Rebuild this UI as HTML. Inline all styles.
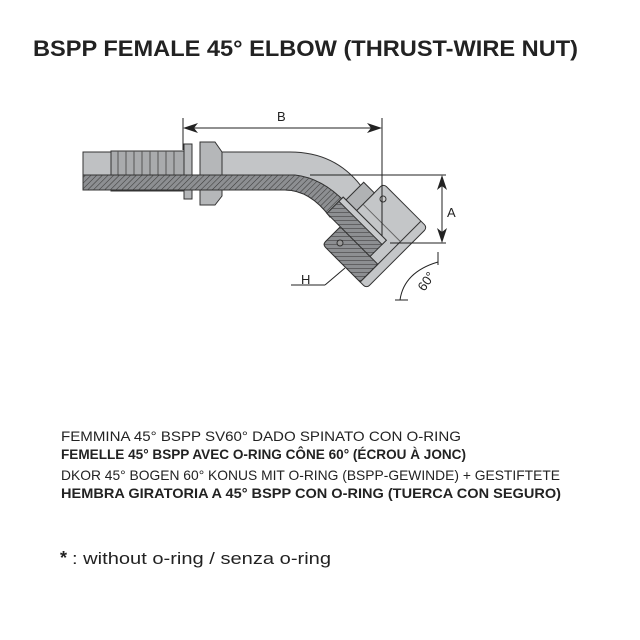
<!DOCTYPE html>
<html><head><meta charset="utf-8"><style>html,body{margin:0;padding:0;background:#fff}svg{display:block}</style></head><body>
<svg width="640" height="640" viewBox="0 0 640 640" xmlns="http://www.w3.org/2000/svg" font-family="Liberation Sans, sans-serif">
<defs>
<pattern id="h" width="4" height="4" patternUnits="userSpaceOnUse" patternTransform="rotate(45)">
<rect width="4" height="4" fill="#8d8f92"/><line x1="0" y1="0" x2="0" y2="4" stroke="#3a3a3a" stroke-width="1.1"/></pattern>
</defs>
<text x="33" y="56" font-size="22" font-weight="bold" fill="#222" textLength="545" lengthAdjust="spacingAndGlyphs">BSPP FEMALE 45° ELBOW  (THRUST-WIRE NUT)</text>

<g stroke="#333" stroke-width="1">
<rect x="83" y="152" width="30" height="38" fill="#bfc1c3"/>
<rect x="111" y="151" width="75" height="40" fill="#a9abad"/>
<g stroke="#555"><line x1="118" y1="151" x2="118" y2="175"/><line x1="126" y1="151" x2="126" y2="175"/><line x1="134" y1="151" x2="134" y2="175"/><line x1="142" y1="151" x2="142" y2="175"/><line x1="150" y1="151" x2="150" y2="175"/><line x1="158" y1="151" x2="158" y2="175"/><line x1="166" y1="151" x2="166" y2="175"/><line x1="174" y1="151" x2="174" y2="175"/></g>
<rect x="184" y="144" width="8" height="55" fill="#b5b7b9"/>
<path d="M200 142 L215 142 L222 152 L222 196 L215 205 L200 205 Z" fill="#b5b7b9"/>
<path d="M222 152 L290 152 Q335 152 361 186 L330 217 Q310 190 285 190 L222 190 Z" fill="#c3c5c7"/>
<path d="M83 175 L295 175 Q322 178 345 202 L330 217 Q310 190 285 190 L83 190 Z" fill="url(#h)"/>

<g transform="translate(375 236) rotate(45)">
<rect x="-31" y="-43" width="62" height="86" rx="4" fill="#c4c6c8"/>
<path d="M-31 18 L22 18 L22 43 L-27 43 Q-31 43 -31 39 Z" fill="url(#h)"/>
<line x1="22" y1="-43" x2="22" y2="43"/>
<line x1="-31" y1="-14" x2="22" y2="-14" stroke="#666"/>
<rect x="-46" y="-30" width="15" height="40" fill="#b0b2b4"/>
<path d="M-50 -5 L11 -5 L11 18 L-50 18 Z" fill="url(#h)"/>
<rect x="-50" y="-5" width="61" height="6" fill="#c8cacc"/>
</g>
<circle cx="340" cy="243" r="3" fill="#999"/>
<circle cx="383" cy="199" r="3" fill="#ccc"/>
</g>

<g stroke="#222" stroke-width="1" fill="none">
<line x1="183" y1="118" x2="183" y2="150"/>
<line x1="382" y1="118" x2="382" y2="236"/>
<line x1="186" y1="128" x2="379" y2="128"/>
<line x1="310" y1="175" x2="446" y2="175"/>
<line x1="390" y1="243" x2="446" y2="243"/>
<line x1="442" y1="178" x2="442" y2="240"/>
<line x1="291" y1="285" x2="325" y2="285"/>
<line x1="325" y1="285" x2="345" y2="268"/>
<path d="M438 262 Q404 272 400 300"/>
<line x1="438" y1="252" x2="438" y2="265"/>
<line x1="395" y1="300" x2="408" y2="300"/>
</g>
<g fill="#222">
<path d="M183 128 L198 123 L194 128 L198 133 Z"/>
<path d="M382 128 L367 123 L371 128 L367 133 Z"/>
<path d="M442 175 L437 190 L442 186 L447 190 Z"/>
<path d="M442 243 L437 228 L442 232 L447 228 Z"/>
</g>
<g font-size="13" fill="#222">
<text x="277" y="121">B</text>
<text x="447" y="217">A</text>
<text x="301" y="284">H</text>
<text x="418" y="290" transform="rotate(-55 423 285)">60°</text>
</g>

<g font-size="14" fill="#222">
<text x="61" y="441" textLength="400" lengthAdjust="spacingAndGlyphs">FEMMINA 45° BSPP SV60° DADO SPINATO CON O-RING</text>
<text x="61" y="459" font-weight="bold" textLength="405" lengthAdjust="spacingAndGlyphs">FEMELLE 45°  BSPP AVEC O-RING CÔNE 60° (ÉCROU À JONC)</text>
<text x="61" y="480" textLength="499" lengthAdjust="spacingAndGlyphs">DKOR 45° BOGEN 60° KONUS MIT O-RING (BSPP-GEWINDE)  + GESTIFTETE</text>
<text x="61" y="498" font-weight="bold" textLength="500" lengthAdjust="spacingAndGlyphs">HEMBRA GIRATORIA A 45° BSPP CON O-RING  (TUERCA CON SEGURO)</text>
<text x="60" y="564" font-size="18" font-weight="bold">*</text>
<text x="72" y="564" font-size="17" textLength="259" lengthAdjust="spacingAndGlyphs">:  without o-ring   /  senza o-ring</text>
</g>
</svg>
</body></html>
